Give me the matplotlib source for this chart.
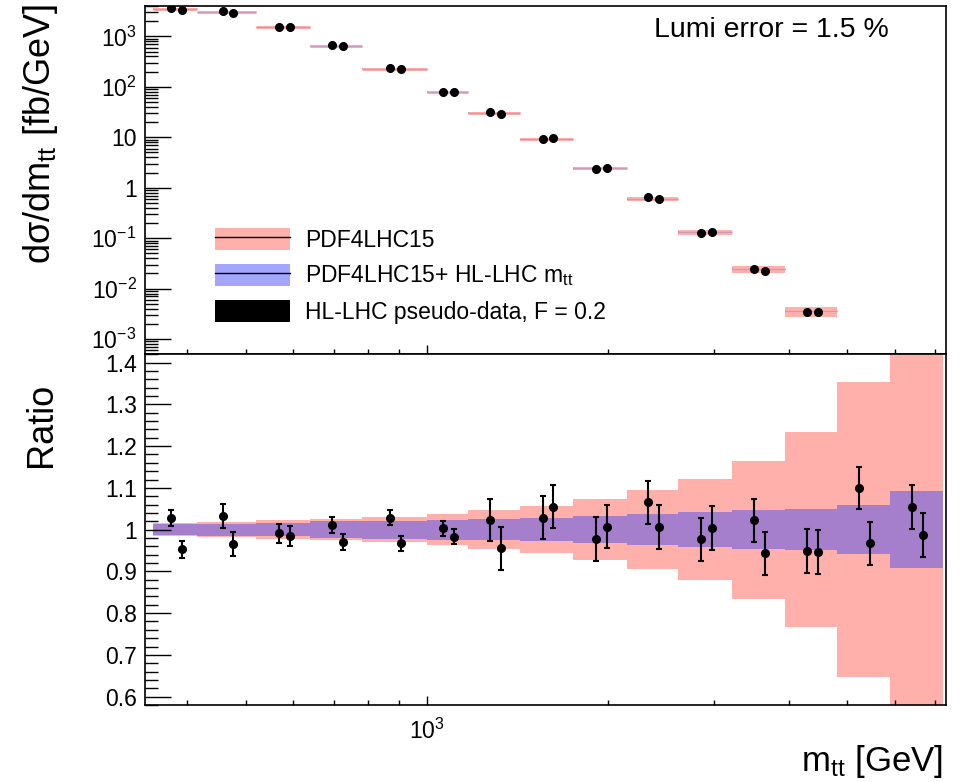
import numpy as np
import matplotlib
matplotlib.use('Agg')
import matplotlib.pyplot as plt
from matplotlib.patches import Patch
from matplotlib.lines import Line2D
from matplotlib.ticker import FixedLocator, FixedFormatter, LogLocator, MultipleLocator, NullFormatter

plt.rcParams['font.family'] = ['Liberation Sans', 'DejaVu Sans']
plt.rcParams['mathtext.fontset'] = 'custom'
plt.rcParams['mathtext.rm'] = 'Liberation Sans'
plt.rcParams['mathtext.it'] = 'Liberation Sans:italic'
plt.rcParams['mathtext.default'] = 'regular'

# m_tt bin edges [GeV]
edges = np.array([350, 415, 520, 640, 780, 1000, 1170, 1430, 1750, 2150,
                  2620, 3220, 3940, 4810, 5890, 7210])
# theory central value per bin [fb/GeV]
xsec = np.array([3540, 3040, 1530, 658, 230, 80, 30.4, 9.07, 2.45, 0.603,
                 0.131, 0.0241, 0.00358, 3.9e-4, 5e-5])
# relative half-widths of the bands
pdf_err = np.array([0.016, 0.0185, 0.022, 0.025, 0.030, 0.037, 0.046, 0.057,
                    0.073, 0.094, 0.121, 0.165, 0.234, 0.354, 0.65])
hl_err = np.array([0.0137, 0.0145, 0.016, 0.020, 0.0216, 0.0237, 0.026, 0.028,
                   0.033, 0.037, 0.042, 0.047, 0.050, 0.059, 0.093])
# pseudo-data / theory (two replicas per bin)
ratio_a = np.array([1.028, 1.033, 0.991, 1.011, 1.029, 1.003, 1.023, 1.029,
                    0.978, 1.065, 0.977, 1.022, 0.949, 1.100, 1.055])
ratio_b = np.array([0.953, 0.966, 0.985, 0.971, 0.967, 0.983, 0.955, 1.055,
                    1.007, 1.006, 1.004, 0.943, 0.946, 0.967, 0.987])
err_a = np.array([0.020, 0.029, 0.023, 0.019, 0.018, 0.018, 0.051, 0.051,
                  0.052, 0.052, 0.052, 0.052, 0.052, 0.051, 0.053])
err_b = np.array([0.020, 0.029, 0.024, 0.019, 0.018, 0.018, 0.051, 0.052,
                  0.051, 0.052, 0.052, 0.051, 0.052, 0.051, 0.053])

lo = edges[:-1]
hi = edges[1:]
w = hi - lo
xc = np.sqrt(lo * hi)
xa = xc * 10**-0.0065
xb = xc * 10**0.0115

pink = '#ffb0aa'
purple = '#a67fcc'
blue = '#a3a5ff'

fig = plt.figure(figsize=(9.62, 7.82), dpi=100)
ax1 = fig.add_axes([0.1507, 0.5469, 0.8324, 0.4454])
ax2 = fig.add_axes([0.1507, 0.0985, 0.8324, 0.4485], sharex=ax1)

#### top panel ####
ax1.bar(lo, xsec * 2 * pdf_err, bottom=xsec * (1 - pdf_err), width=w,
        align='edge', color=pink, lw=0)
ax1.hlines(xsec, lo, hi, color=pink, lw=2.2)
ax1.bar(lo, xsec * 2 * hl_err, bottom=xsec * (1 - hl_err), width=w,
        align='edge', color=purple, lw=0)
ax1.hlines(xsec, lo, hi, color='#d096c0', lw=0.9)
ax1.plot(xa, xsec * ratio_a, 'o', color='k', ms=5.5)
ax1.plot(xb, xsec * ratio_b, 'o', color='k', ms=5.5)

ax1.set_xscale('log')
ax1.set_yscale('log')
ax1.set_xlim(340, 7300)
ax1.set_ylim(5e-4, 4e3)

yt = [1e-3, 1e-2, 1e-1, 1, 10, 1e2, 1e3]
ylab = ['$10^{-3}$', '$10^{-2}$', '$10^{-1}$', '1', '10', '$10^{2}$', '$10^{3}$']
ax1.yaxis.set_major_locator(FixedLocator(yt))
ax1.yaxis.set_major_formatter(FixedFormatter(ylab))
ax1.yaxis.set_minor_locator(LogLocator(base=10, subs=np.arange(2, 10), numticks=20))
ax1.yaxis.set_minor_formatter(NullFormatter())

ax1.text(0.782, 0.931, 'Lumi error = 1.5 %', transform=ax1.transAxes,
         ha='center', va='center', fontsize=20.5)

handles = [(Patch(fc=pink, lw=0), Line2D([], [], color='k', lw=1)),
           (Patch(fc=blue, lw=0), Line2D([], [], color='k', lw=1)),
           Patch(fc='k', lw=0)]
labels = ['PDF4LHC15', 'PDF4LHC15+ HL-LHC m$_{\\mathrm{tt}}$',
          'HL-LHC pseudo-data, F = 0.2']
ax1.legend(handles, labels, loc='upper left', bbox_to_anchor=(0.0874, 0.3626),
           frameon=False, fontsize=16.5, handlelength=3.27, handleheight=1.09,
           labelspacing=0.51, handletextpad=0.65, borderpad=0, borderaxespad=0)

#### ratio panel ####
ax2.bar(lo, 2 * pdf_err, bottom=1 - pdf_err, width=w, align='edge', color=pink, lw=0)
ax2.bar(lo, 2 * hl_err, bottom=1 - hl_err, width=w, align='edge', color=purple, lw=0)
ax2.errorbar(xa, ratio_a, yerr=err_a, fmt='o', color='k', ms=5.5,
             elinewidth=1.5, capsize=2.2, capthick=1.5)
ax2.errorbar(xb, ratio_b, yerr=err_b, fmt='o', color='k', ms=5.5,
             elinewidth=1.5, capsize=2.2, capthick=1.5)
ax2.set_ylim(0.58, 1.42)
ax2.yaxis.set_minor_locator(MultipleLocator(0.02))
ax2.set_yticks([0.6, 0.7, 0.8, 0.9, 1.0, 1.1, 1.2, 1.3, 1.4])
ax2.set_yticklabels(['0.6', '0.7', '0.8', '0.9', '1', '1.1', '1.2', '1.3', '1.4'])

ax2.xaxis.set_major_locator(FixedLocator([1000]))
ax2.xaxis.set_major_formatter(FixedFormatter(['$10^{3}$']))
ax2.xaxis.set_minor_locator(FixedLocator([400, 500, 600, 700, 800, 900, 2000,
                                          3000, 4000, 5000, 6000, 7000]))
ax2.xaxis.set_minor_formatter(NullFormatter())

for ax in (ax1, ax2):
    ax.tick_params(which='both', direction='in', top=False, right=False,
                   width=1.0, labelsize=16.5)
    ax.tick_params(axis='y', which='major', length=18.7, pad=6)
    ax.tick_params(axis='y', which='minor', length=9.4)
    ax.tick_params(axis='x', which='major', length=6.5, pad=10)
    ax.tick_params(axis='x', which='minor', length=3.5)
    for s in ax.spines.values():
        s.set_linewidth(1.2)
ax1.tick_params(labelbottom=False)

fig.text(41 / 962, 1 - 4 / 782, 'd\u03c3/dm$_{\\mathrm{tt}}$ [fb/GeV]', rotation=90,
         ha='center', va='top', fontsize=26)
fig.text(41 / 962, 1 - 383 / 782, 'Ratio', rotation=90, ha='center', va='top',
         fontsize=26)
fig.text(943 / 962, 1 - 771 / 782, 'm$_{\\mathrm{tt}}$ [GeV]', ha='right',
         va='baseline', fontsize=25)

fig.savefig('out.png', dpi=100)
